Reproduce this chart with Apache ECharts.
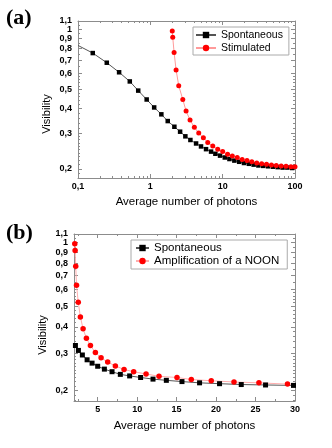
<!DOCTYPE html>
<html>
<head>
<meta charset="utf-8">
<script src="https://cdn.jsdelivr.net/npm/echarts@6/dist/echarts.min.js"></script>
<style>
  html, body { margin: 0; padding: 0; background: #fff; }
  #main { width: 332px; height: 448px; }
</style>
</head>
<body>
<div id="main"></div>
<script>
// panel (a): log x, log y
var spontA_x = [0.1, 0.16, 0.25, 0.37, 0.52, 0.68, 0.89, 1.13, 1.42, 1.74, 2.15, 2.58, 3.05, 3.58, 4.29, 5.02, 5.89, 6.91, 7.93, 9.2, 10.7, 12.4, 14.5, 16.9, 19.7, 23, 26.8, 31.2, 36.4, 42.4, 49.5, 57.7, 67.3, 78.4, 91.4];
var spontA_y = [0.83, 0.76, 0.68, 0.609, 0.548, 0.493, 0.445, 0.406, 0.375, 0.347, 0.325, 0.307, 0.291, 0.279, 0.268, 0.259, 0.251, 0.244, 0.238, 0.233, 0.228, 0.224, 0.22, 0.217, 0.214, 0.212, 0.21, 0.208, 0.207, 0.206, 0.205, 0.204, 0.203, 0.203, 0.202];
var stimA_x = [2.01, 2.04, 2.13, 2.27, 2.47, 2.81, 3.12, 3.54, 4.06, 4.67, 5.41, 6.22, 7.3, 8.55, 10, 11.7, 13.6, 15.9, 18.6, 21.7, 25.3, 29.6, 34.6, 40.4, 47.2, 55.1, 64.4, 75.2, 87.8, 100];
var stimA_y = [0.98, 0.913, 0.766, 0.626, 0.522, 0.445, 0.39, 0.351, 0.323, 0.302, 0.286, 0.271, 0.26, 0.251, 0.244, 0.237, 0.232, 0.228, 0.223, 0.22, 0.217, 0.214, 0.212, 0.211, 0.209, 0.208, 0.207, 0.206, 0.205, 0.205];

// panel (b): linear x, log y
var spontB_x = [2.18, 2.56, 3.06, 3.66, 4.29, 5.0, 5.85, 6.82, 7.87, 9.05, 10.44, 12.01, 13.7, 15.68, 17.91, 20.44, 23.19, 26.27, 29.81];
var spontB_y = [0.326, 0.309, 0.294, 0.279, 0.269, 0.26, 0.252, 0.245, 0.238, 0.234, 0.23, 0.226, 0.223, 0.22, 0.217, 0.215, 0.213, 0.212, 0.211];
var noonB_x = [2.1, 2.14, 2.22, 2.32, 2.54, 2.81, 3.15, 3.57, 4.08, 4.71, 5.43, 6.27, 7.24, 8.34, 9.56, 11.13, 12.77, 15.05, 16.86, 19.39, 22.27, 25.43, 29.05];
var noonB_y = [0.99, 0.92, 0.773, 0.629, 0.522, 0.445, 0.391, 0.353, 0.326, 0.302, 0.285, 0.272, 0.261, 0.251, 0.245, 0.239, 0.233, 0.23, 0.225, 0.222, 0.219, 0.217, 0.214];

var yTicks = [0.2, 0.3, 0.4, 0.5, 0.6, 0.7, 0.8, 0.9, 1, 1.1];
var xTicksA = [0.1, 1, 10, 100];
var xTicksB = [5, 10, 15, 20, 25, 30];

var chart = echarts.init(document.getElementById('main'));
var lg = Math.log10;
var font = 'Liberation Sans, Arial, sans-serif';
var axisColor = '#8c8c8c';

// minor tick positions
var yMinor = [];
for (var v = 0.18; v < 1.1; v += (v < 0.3 ? 0.01 : (v < 0.6 ? 0.02 : 0.05))) yMinor.push(lg(+v.toFixed(2)));
var xMinorA = [];
for (var k = -1; k < 2; k++) for (var m = 2; m <= 9; m++) xMinorA.push(lg(m * Math.pow(10, k)));
var xMinorB = [2.5, 7.5, 12.5, 17.5, 22.5, 27.5];

function fromLog(v) { return String(+Math.pow(10, v).toFixed(2)).replace('.', ','); }

var labelStyle = { color: '#000', fontSize: 9, fontWeight: 'bold', fontFamily: font };

// one side of the frame: major ticks (+labels) and a twin axis with minor ticks;
// the twin may carry labels that would collide with the main ones (1 / 1,1)
function side(dim, grid, pos, min, max, major, minor, fmt, twinLabels) {
  var margin = dim === 'x' ? 4 : 6;
  var main = {
    type: 'value', gridIndex: grid, position: pos, min: min, max: max,
    axisLine: { show: true, onZero: false, lineStyle: { color: axisColor, width: 1 } },
    axisTick: { show: true, inside: true, length: 4, customValues: major, lineStyle: { color: axisColor } },
    axisLabel: Object.assign({ show: !!fmt, formatter: fmt, margin: margin, showMinLabel: true, showMaxLabel: true,
      customValues: twinLabels ? major.slice(0, -1) : major }, labelStyle),
    splitLine: { show: false }
  };
  var small = {
    type: 'value', gridIndex: grid, position: pos, min: min, max: max,
    axisLine: { show: false, onZero: false },
    axisTick: { show: true, inside: true, length: 2, customValues: minor, lineStyle: { color: axisColor } },
    axisLabel: Object.assign({ show: !!(fmt && twinLabels), formatter: fmt, margin: margin,
      showMinLabel: true, showMaxLabel: true, customValues: twinLabels ? major.slice(-1) : [] }, labelStyle),
    splitLine: { show: false }
  };
  return [main, small];
}

var xAxes = [].concat(
  side('x', 0, 'bottom', -1, 2, xTicksA.map(lg), xMinorA, fromLog),
  side('x', 0, 'top', -1, 2, xTicksA.map(lg), xMinorA, null),
  side('x', 1, 'bottom', 2, 30, xTicksB, xMinorB, function (v) { return v; }),
  side('x', 1, 'top', 2, 30, xTicksB, xMinorB, null)
);
var yAxes = [].concat(
  side('y', 0, 'left', lg(0.18), lg(1.1), yTicks.map(lg), yMinor, fromLog, true),
  side('y', 0, 'right', lg(0.18), lg(1.1), yTicks.map(lg), yMinor, null),
  side('y', 1, 'left', lg(0.178), lg(1.1), yTicks.map(lg), yMinor, fromLog, true),
  side('y', 1, 'right', lg(0.178), lg(1.1), yTicks.map(lg), yMinor, null)
);

function pts(xs, ys, logX) {
  return xs.map(function (x, i) { return [logX ? lg(x) : x, lg(ys[i])]; });
}
var spontAData = pts(spontA_x, spontA_y, true);
spontAData[0] = { value: spontAData[0], symbol: 'none' };

var black = { color: '#000' }, red = { color: '#ff0000' };

var option = {
  animation: false,
  grid: [
    { left: 78, top: 21, right: 37, bottom: 270 },
    { left: 74, top: 234, right: 37, bottom: 47 }
  ],
  xAxis: xAxes,
  yAxis: yAxes,
  legend: [
    { orient: 'vertical', left: 193, top: 27, padding: [2, 6, 1, 2], itemWidth: 20, itemHeight: 8, itemGap: 1,
      borderColor: '#aaa', borderWidth: 1, backgroundColor: '#fff',
      textStyle: { fontSize: 10.5, lineHeight: 12, color: '#000', fontFamily: font },
      data: ['Spontaneous', 'Stimulated'] },
    { orient: 'vertical', left: 131, top: 240, padding: [2, 8, 2, 4], itemWidth: 13, itemHeight: 8, itemGap: 1,
      borderColor: '#aaa', borderWidth: 1, backgroundColor: '#fff',
      textStyle: { fontSize: 11.5, lineHeight: 12, color: '#000', fontFamily: font },
      data: ['Spontaneous', 'Amplification of a NOON'] }
  ],
  graphic: [
    { type: 'text', left: 6, top: 7, style: { text: '(a)', fontSize: 22, fontWeight: 'bold', fontFamily: 'Liberation Serif, serif', fill: '#000' } },
    { type: 'text', left: 6, top: 222, style: { text: '(b)', fontSize: 22, fontWeight: 'bold', fontFamily: 'Liberation Serif, serif', fill: '#000' } },
    { type: 'text', x: 186.5, y: 202, style: { text: 'Average number of photons', fontSize: 11.5, fontFamily: font, fill: '#000', align: 'center', verticalAlign: 'middle' } },
    { type: 'text', x: 184.5, y: 425.5, style: { text: 'Average number of photons', fontSize: 11.5, fontFamily: font, fill: '#000', align: 'center', verticalAlign: 'middle' } },
    { type: 'text', x: 46.5, y: 114, rotation: Math.PI / 2, style: { text: 'Visibility', fontSize: 11, fontFamily: font, fill: '#000', align: 'center', verticalAlign: 'middle' } },
    { type: 'text', x: 43, y: 335, rotation: Math.PI / 2, style: { text: 'Visibility', fontSize: 11, fontFamily: font, fill: '#000', align: 'center', verticalAlign: 'middle' } }
  ],
  series: [
    { name: 'Spontaneous', type: 'line', xAxisIndex: 0, yAxisIndex: 0, data: spontAData,
      symbol: 'rect', symbolSize: 4.5, itemStyle: black, lineStyle: { color: '#555', width: 1 } },
    { name: 'Stimulated', type: 'line', xAxisIndex: 0, yAxisIndex: 0, data: pts(stimA_x, stimA_y, true),
      symbol: 'circle', symbolSize: 5, itemStyle: red, lineStyle: { color: '#ff9a9a', width: 1 } },
    { name: 'Spontaneous', type: 'line', xAxisIndex: 4, yAxisIndex: 4, data: pts(spontB_x, spontB_y, false),
      symbol: 'rect', symbolSize: 5, itemStyle: black, lineStyle: { color: '#555', width: 1 } },
    { name: 'Amplification of a NOON', type: 'line', xAxisIndex: 4, yAxisIndex: 4, data: pts(noonB_x, noonB_y, false),
      symbol: 'circle', symbolSize: 5.5, itemStyle: red, lineStyle: { color: '#ffadad', width: 1 } }
  ]
};

chart.setOption(option);
</script>
</body>
</html>
